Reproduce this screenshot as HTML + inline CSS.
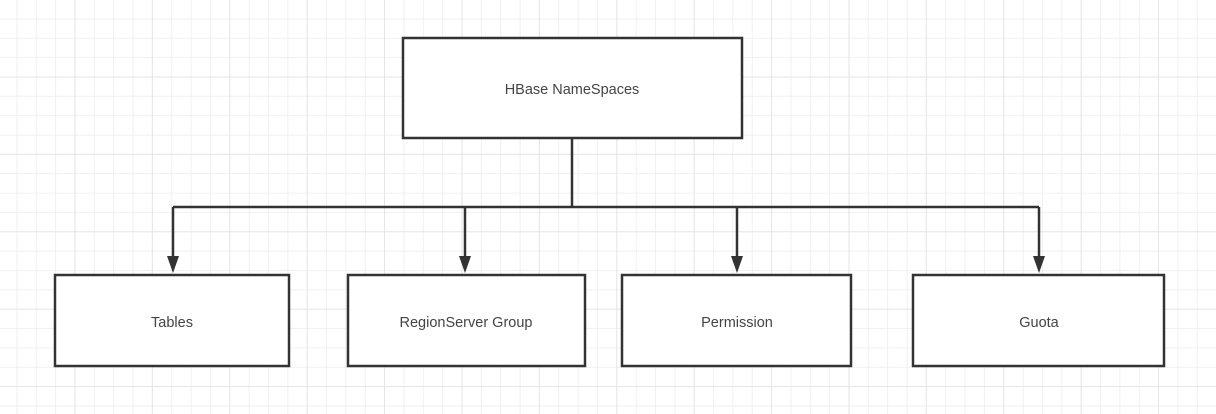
<!DOCTYPE html>
<html><head><style>
html,body{margin:0;padding:0;width:1216px;height:414px;overflow:hidden;background:#fff}
</style></head><body>
<svg width="1216" height="414" xmlns="http://www.w3.org/2000/svg">
<defs>
<pattern id="g" width="19.35" height="19.35" patternUnits="userSpaceOnUse" x="-2" y="0">
<path d="M19.35 0V19.35M0 19.35H19.35" stroke="#ececec" stroke-width="1.5" fill="none"/>
</pattern>
<pattern id="G" width="77.4" height="77.4" patternUnits="userSpaceOnUse" x="-2" y="0">
<path d="M77.4 0V77.4M0 77.4H77.4" stroke="#e2e2e2" stroke-width="1.5" fill="none"/>
</pattern>
</defs>
<rect width="1216" height="414" fill="url(#g)"/>
<rect width="1216" height="414" fill="url(#G)"/>
<g stroke="#333" stroke-width="2.5" fill="#fff">
<rect x="403" y="38" width="339" height="100"/>
<rect x="55" y="275" width="234" height="91"/>
<rect x="348" y="275" width="237" height="91"/>
<rect x="622" y="275" width="229" height="91"/>
<rect x="913" y="275" width="251" height="91"/>
<path d="M572 138V207M173 207H1039M173 207V258M465 207V258M737 207V258M1039 207V258" fill="none"/>
</g>
<g fill="#333">
<path d="M167 256H179L173 273Z"/>
<path d="M459 256H471L465 273Z"/>
<path d="M731 256H743L737 273Z"/>
<path d="M1033 256H1045L1039 273Z"/>
</g>
<g font-family="Liberation Sans, sans-serif" font-size="14.5" fill="#444" text-anchor="middle">
<text x="572" y="94">HBase NameSpaces</text>
<text x="172" y="327">Tables</text>
<text x="466" y="327">RegionServer Group</text>
<text x="737" y="327">Permission</text>
<text x="1039" y="327">Guota</text>
</g>
</svg>
</body></html>
